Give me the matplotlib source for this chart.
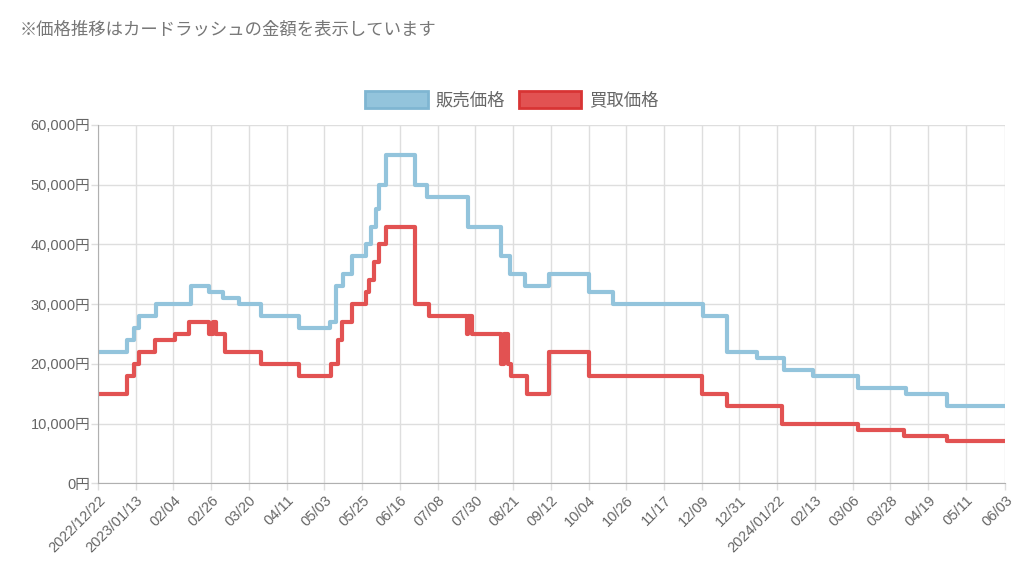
import numpy as np
from matplotlib import pyplot as plt
from matplotlib.patches import Patch
from matplotlib.ticker import FuncFormatter

plt.rcParams['font.family'] = ['Liberation Sans', 'Noto Sans CJK JP', 'DejaVu Sans']

start = np.datetime64('2022-12-22')
n_days = 529  # 2022/12/22 .. 2024/06/03

# price change points: (days since start, price in yen)
sell_days = [0, 17, 21, 24, 34, 54, 65, 73, 82, 95, 117, 135, 139, 143, 148, 156, 159, 162, 164, 168,
             185, 192, 216, 235, 240, 249, 263, 286, 300, 353, 367, 384, 400, 417, 443, 471, 495, 529]
sell_price = [22000, 24000, 26000, 28000, 30000, 33000, 32000, 31000, 30000, 28000, 26000, 27000, 33000,
              35000, 38000, 40000, 43000, 46000, 50000, 55000, 50000, 48000, 43000, 38000, 35000, 33000,
              35000, 32000, 30000, 28000, 22000, 21000, 19000, 18000, 16000, 15000, 13000, 13000]

buy_days = [0, 17, 21, 24, 33, 45, 53, 65, 67, 69, 74, 95, 117, 136, 140, 142, 148, 156, 158, 161, 164, 168,
            185, 193, 215, 216, 218, 235, 237, 239, 241, 250, 263, 286, 352, 367, 399, 443, 470, 495, 529]
buy_price = [15000, 18000, 20000, 22000, 24000, 25000, 27000, 25000, 27000, 25000, 22000, 20000, 18000,
             20000, 24000, 27000, 30000, 32000, 34000, 37000, 40000, 43000, 30000, 28000, 25000, 28000,
             25000, 20000, 25000, 20000, 18000, 15000, 22000, 18000, 15000, 13000, 10000, 9000, 8000,
             7000, 7000]

tick_days = list(range(0, 507, 22)) + [n_days]

blue = '#93c4dc'
red = '#e25252'
cjk = ['Noto Sans CJK JP', 'DejaVu Sans']

fig = plt.figure(figsize=(10.24, 5.71), dpi=100)
ax = fig.add_axes([0.0957, 0.1536, 0.886, 0.6275])

ax.plot(sell_days, sell_price, drawstyle='steps-post', color=blue, lw=3.0, solid_joinstyle='round')
ax.plot(buy_days, buy_price, drawstyle='steps-post', color=red, lw=3.0, solid_joinstyle='round')

ax.set_xlim(0, n_days)
ax.set_ylim(0, 60000)
ax.set_yticks(range(0, 60001, 10000))
ax.yaxis.set_major_formatter(FuncFormatter(lambda v, p: f'{int(v):,}円'))

labels = []
prev_year = None
for d in tick_days:
    day = (start + np.timedelta64(d, 'D')).astype(object)
    if day.year != prev_year:
        labels.append(day.strftime('%Y/%m/%d'))
    else:
        labels.append(day.strftime('%m/%d'))
    prev_year = day.year
ax.set_xticks(tick_days)
ax.set_xticklabels(labels, rotation=45, ha='right', rotation_mode='anchor')

ax.grid(True, color='#dedede', lw=1)
ax.set_axisbelow(True)
ax.tick_params(axis='both', colors='#dedede', labelcolor='#666666', labelsize=10.5, length=5, width=1)
ax.tick_params(axis='x', pad=2)
ax.tick_params(axis='y', pad=0.5)
for s in ['top', 'right']:
    ax.spines[s].set_visible(False)
for s in ['left', 'bottom']:
    ax.spines[s].set_color('#b0b0b0')

handles = [Patch(facecolor=blue, edgecolor='#7fb6d2', lw=2, label='販売価格'),
           Patch(facecolor=red, edgecolor='#d83434', lw=2, label='買取価格')]
fig.legend(handles=handles, loc='center', bbox_to_anchor=(0.5, 0.825), ncol=2, frameon=False,
           prop={'family': cjk, 'size': 12.5}, handlelength=3.6, handleheight=1.2, handletextpad=0.45,
           columnspacing=0.8, labelcolor='#666666')

fig.text(0.0195, 0.948, '※価格推移はカードラッシュの金額を表示しています', fontsize=12.5,
         family=cjk, color='#777777', va='center', ha='left')

fig.savefig('out.png', dpi=100)
